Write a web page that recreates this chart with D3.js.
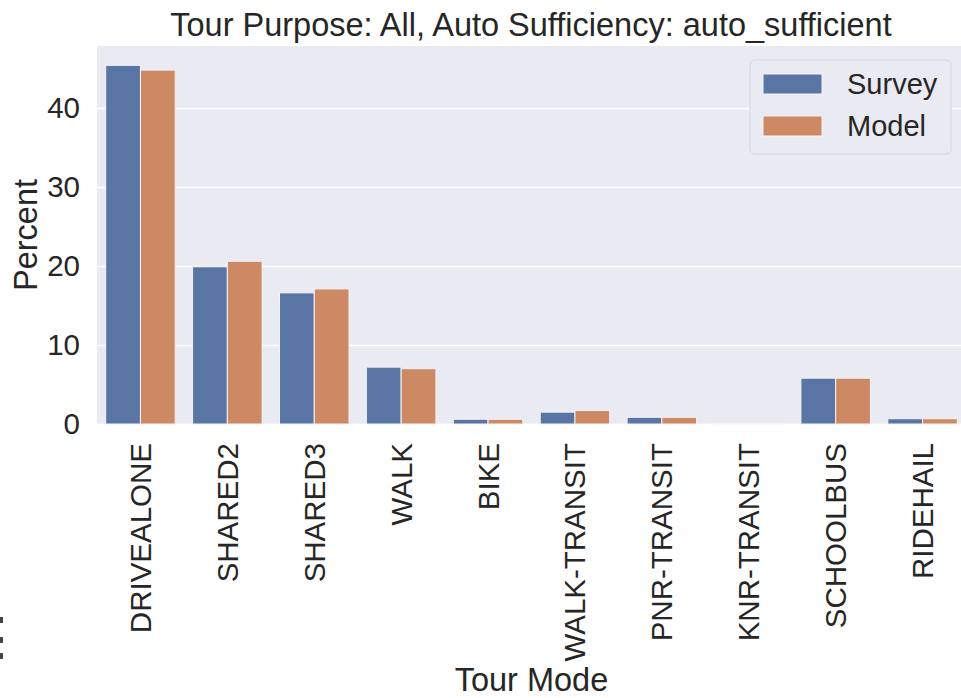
<!DOCTYPE html>
<html>
<head>
<meta charset="utf-8">
<script src="https://cdn.jsdelivr.net/npm/d3@7"></script>
<style>
  body { margin: 0; background: #fff; }
  text { font-family: "Liberation Sans", Arial, sans-serif; fill: #262626; }
</style>
</head>
<body>
<div id="chart"></div>
<script>
const modes = ["DRIVEALONE", "SHARED2", "SHARED3", "WALK", "BIKE", "WALK-TRANSIT", "PNR-TRANSIT", "KNR-TRANSIT", "SCHOOLBUS", "RIDEHAIL"];
const series = ["Survey", "Model"];
const survey = [45.4, 19.9, 16.6, 7.2, 0.6, 1.5, 0.85, 0.1, 5.8, 0.67];
const model = [44.8, 20.6, 17.1, 7.0, 0.6, 1.7, 0.85, 0.1, 5.8, 0.67];
const yTicks = [0, 10, 20, 30, 40];
const colors = ["#5875a4", "#cc8963"];

const width = 961, height = 698;
const plot = {left: 97, right: 966, top: 46, bottom: 424};

const svg = d3.select("#chart").append("svg")
    .attr("width", width)
    .attr("height", height);

const x = d3.scaleBand().domain(modes).range([plot.left, plot.right]).paddingInner(0.2).paddingOuter(0.1);
const xs = d3.scaleBand().domain(series).range([0, x.bandwidth()]);
const y = d3.scaleLinear().domain([0, 47.85]).range([plot.bottom, plot.top]);

svg.append("rect")
    .attr("x", plot.left).attr("y", plot.top)
    .attr("width", plot.right - plot.left).attr("height", plot.bottom - plot.top)
    .attr("fill", "#eaeaf2");

// grid + y labels
const yAxis = svg.append("g")
    .attr("transform", "translate(" + plot.left + ",0)")
    .call(d3.axisLeft(y).tickValues(yTicks).tickSize(-(plot.right - plot.left)).tickPadding(17));
yAxis.select(".domain").remove();
yAxis.selectAll("line").attr("stroke", "#fff").attr("stroke-width", 1.3);
yAxis.selectAll("text").attr("font-size", 29.5).attr("fill", "#262626");

const rows = modes.map((m, i) => ({mode: m, values: [survey[i], model[i]]}));

svg.append("g").selectAll("g")
    .data(rows).enter()
    .append("g")
    .attr("transform", d => "translate(" + x(d.mode) + ",0)")
    .selectAll("rect")
    .data(d => d.values.map((v, j) => ({key: series[j], value: v, idx: j})))
    .enter()
    .append("rect")
    .attr("x", d => xs(d.key))
    .attr("width", xs.bandwidth())
    .attr("y", d => y(d.value))
    .attr("height", d => y(0) - y(d.value))
    .attr("fill", d => colors[d.idx])
    .attr("stroke", "#f4f4f8")
    .attr("stroke-width", 1);

// x labels
const xAxis = svg.append("g")
    .attr("transform", "translate(0," + plot.bottom + ")")
    .call(d3.axisBottom(x).tickSize(0).tickPadding(0));
xAxis.select(".domain").remove();
xAxis.selectAll("text")
    .attr("font-size", 29.5)
    .attr("fill", "#262626")
    .attr("text-anchor", "end")
    .attr("dominant-baseline", "central")
    .attr("dy", null)
    .attr("y", 0)
    .attr("transform", "translate(0,19) rotate(-90)");

svg.append("text")
    .attr("x", (plot.left + plot.right) / 2 - 0.5)
    .attr("y", 36)
    .attr("text-anchor", "middle")
    .attr("font-size", 32.5)
    .text("Tour Purpose: All, Auto Sufficiency: auto_sufficient");

svg.append("text")
    .attr("x", (plot.left + plot.right) / 2)
    .attr("y", 691)
    .attr("text-anchor", "middle")
    .attr("font-size", 32.5)
    .text("Tour Mode");

svg.append("text")
    .attr("transform", "translate(37," + (plot.top + plot.bottom) / 2 + ") rotate(-90)")
    .attr("text-anchor", "middle")
    .attr("font-size", 32.5)
    .text("Percent");

// legend
const legend = svg.append("g").attr("transform", "translate(750,60)");
legend.append("rect")
    .attr("width", 201).attr("height", 94).attr("rx", 5)
    .attr("fill", "#eaeaf2").attr("stroke", "#d5d5dd").attr("stroke-width", 1);
series.forEach((s, i) => {
    legend.append("rect")
        .attr("x", 13).attr("y", 14 + i * 42)
        .attr("width", 59).attr("height", 20)
        .attr("fill", colors[i]).attr("stroke", "#f4f4f8");
    legend.append("text")
        .attr("x", 97).attr("y", 34 + i * 42)
        .attr("font-size", 29)
        .text(s);
});

// cropped ellipsis at left edge
[617, 637, 653].forEach(v => {
    svg.append("rect").attr("x", 0).attr("y", v).attr("width", 3).attr("height", 6).attr("fill", "#444");
});
</script>
</body>
</html>
